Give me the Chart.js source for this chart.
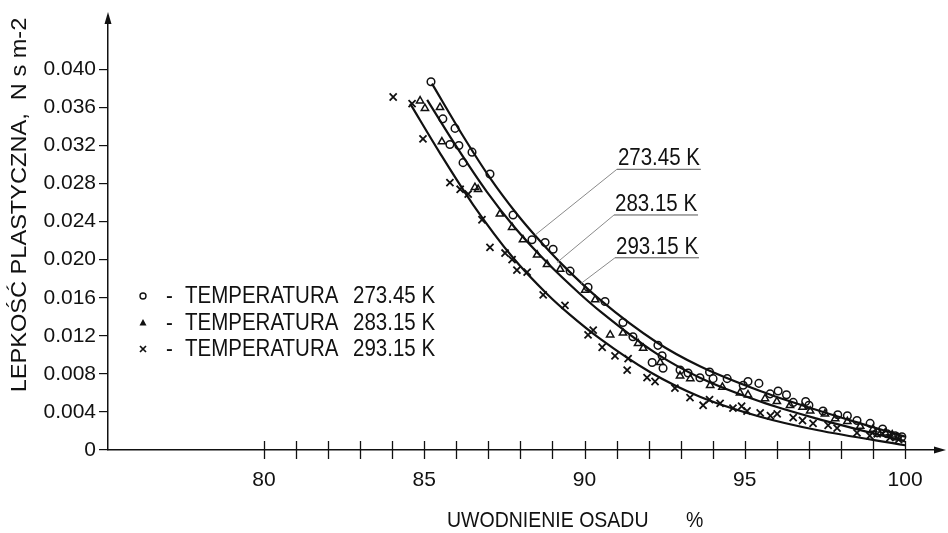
<!DOCTYPE html>
<html lang="pl">
<head>
<meta charset="UTF-8">
<title>Lepkość plastyczna</title>
<style>
  html, body { margin: 0; padding: 0; background: #fff; }
  #wrap { width: 948px; height: 533px; }
</style>
</head>
<body>
<div id="wrap"><canvas id="myChart" width="948" height="533"></canvas></div>

<script src="https://cdn.jsdelivr.net/npm/chart.js"></script>
<script>
// --- dane ---
const xTicks = [80, 81, 82, 83, 84, 85, 86, 87, 88, 89, 90, 91, 92, 93, 94, 95, 96, 97, 98, 99, 100];
const yTicks = [0, 0.004, 0.008, 0.012, 0.016, 0.020, 0.024, 0.028, 0.032, 0.036, 0.040];
const temps = ['273.45 K', '283.15 K', '293.15 K'];

// pomiary 273.45 K (kółka)
const circX = [85.21, 85.58, 85.96, 85.80, 86.08, 86.49, 86.21, 87.05, 87.77, 88.36, 88.77, 89.02, 89.55, 90.11, 90.64, 91.20, 91.51, 92.29, 92.42, 92.11, 92.45, 92.98, 93.23, 93.60, 93.90, 94.01, 94.45, 94.95, 95.10, 95.44, 95.79, 96.04, 96.30, 96.51, 96.90, 97.00, 97.44, 97.90, 98.20, 98.50, 98.91, 99.13, 99.30, 99.44, 99.69, 99.90];
const circY = [0.0387, 0.0348, 0.0338, 0.0321, 0.0320, 0.0313, 0.0302, 0.0290, 0.0247, 0.0221, 0.0218, 0.0211, 0.0188, 0.0171, 0.0156, 0.0134, 0.0119, 0.0110, 0.0099, 0.0092, 0.0086, 0.0084, 0.0081, 0.0076, 0.0082, 0.0075, 0.0075, 0.0068, 0.0072, 0.0070, 0.0059, 0.0062, 0.0058, 0.0050, 0.0051, 0.0047, 0.0041, 0.0037, 0.0036, 0.0031, 0.0028, 0.0018, 0.0022, 0.0017, 0.0015, 0.0014];

// pomiary 283.15 K (trójkąty)
const triX = [84.87, 85.02, 85.49, 85.55, 86.58, 86.68, 87.36, 87.74, 88.08, 88.52, 88.83, 89.24, 90.02, 90.33, 90.80, 91.20, 91.67, 91.83, 92.36, 92.98, 93.30, 93.92, 94.30, 94.85, 95.10, 95.63, 96.00, 96.41, 96.80, 97.04, 97.50, 97.82, 98.20, 98.60, 99.00, 99.38, 99.60, 99.78];
const triY = [0.0367, 0.0359, 0.0360, 0.0324, 0.0276, 0.0274, 0.0248, 0.0234, 0.0221, 0.0205, 0.0195, 0.0190, 0.0168, 0.0158, 0.0121, 0.0123, 0.0112, 0.0107, 0.0092, 0.0078, 0.0075, 0.0068, 0.0066, 0.0060, 0.0058, 0.0054, 0.0051, 0.0047, 0.0045, 0.0041, 0.0038, 0.0033, 0.0030, 0.0025, 0.0022, 0.0018, 0.0016, 0.0013];

// pomiary 293.15 K (krzyżyki)
const crossX = [84.03, 84.62, 84.96, 85.80, 86.12, 86.37, 86.80, 87.05, 87.52, 87.74, 87.89, 88.21, 88.71, 89.39, 90.11, 90.27, 90.55, 90.95, 91.36, 91.33, 91.95, 92.20, 92.82, 93.29, 93.70, 93.90, 94.23, 94.63, 94.90, 95.07, 95.48, 95.80, 96.01, 96.51, 96.80, 97.13, 97.60, 97.88, 98.50, 98.90, 99.13, 99.53, 99.80];
const crossY = [0.0371, 0.0364, 0.0327, 0.0281, 0.0274, 0.0269, 0.0242, 0.0213, 0.0207, 0.0200, 0.0189, 0.0187, 0.0163, 0.0152, 0.0121, 0.0126, 0.0108, 0.0099, 0.0096, 0.0084, 0.0076, 0.0072, 0.0065, 0.0055, 0.0047, 0.0053, 0.0049, 0.0044, 0.0046, 0.0041, 0.0039, 0.0036, 0.0038, 0.0034, 0.0031, 0.0028, 0.0026, 0.0023, 0.0018, 0.0015, 0.0017, 0.0013, 0.0011];

// krzywe
const fit1X = [85.24, 86.21, 87.05, 87.89, 88.52, 89.33, 90.48, 92.26, 93.60, 95.48, 97.25, 98.60, 100.0];
const fit1Y = [0.0385, 0.0330, 0.0286, 0.0248, 0.0223, 0.0194, 0.0158, 0.0113, 0.0088, 0.0062, 0.0042, 0.0028, 0.0014];
const fit2X = [85.09, 86.02, 86.96, 87.77, 88.83, 89.86, 90.48, 92.26, 93.60, 95.48, 97.25, 100.0];
const fit2Y = [0.0368, 0.0318, 0.0271, 0.0236, 0.0197, 0.0164, 0.0146, 0.0101, 0.0076, 0.0051, 0.0033, 0.0009];
const fit3X = [84.56, 85.49, 86.52, 87.77, 88.83, 89.55, 90.48, 92.04, 93.60, 95.48, 97.25, 100.0];
const fit3Y = [0.0364, 0.0312, 0.0258, 0.0202, 0.0164, 0.0142, 0.0117, 0.0082, 0.0056, 0.0035, 0.0021, 0.0005];

// opisy krzywych: początek linii odniesienia i punkt na krzywej
const noteX = [91.01, 90.92, 90.95];
const noteY = [0.0295, 0.0247, 0.0202];
const tipX = [88.46, 89.14, 89.89];
const tipY = [0.0226, 0.0197, 0.0175];

function pary(xs, ys) {
    return xs.map(function (x, i) { return { x: x, y: ys[i] }; });
}

const FONT = '"Liberation Sans", Arial, sans-serif';

function krzywa(xs, ys) {
    return {
        type: 'line',
        data: pary(xs, ys),
        showLine: true,
        borderColor: '#111',
        borderWidth: 2.2,
        pointRadius: 0,
        cubicInterpolationMode: 'monotone',
        fill: false
    };
}

// rysowanie ozdób: ticki na osi X, strzałki, tytuły osi, legenda, opisy
const ozdoby = {
    id: 'ozdoby',
    afterDraw(chart) {
        const ctx = chart.ctx;
        const xs = chart.scales.x;
        const ys = chart.scales.y;
        const a = chart.chartArea;

        ctx.save();
        ctx.strokeStyle = '#111';
        ctx.fillStyle = '#111';
        ctx.lineWidth = 1.3;

        // ticki przecinające oś X
        xTicks.forEach(function (v) {
            const px = Math.round(xs.getPixelForValue(v)) + 0.5;
            ctx.beginPath();
            ctx.moveTo(px, a.bottom - 9);
            ctx.lineTo(px, a.bottom + 9);
            ctx.stroke();
        });

        // strzałki
        ctx.beginPath();
        ctx.moveTo(a.left, a.top - 6);
        ctx.lineTo(a.left - 3.5, a.top + 6);
        ctx.lineTo(a.left + 3.5, a.top + 6);
        ctx.closePath();
        ctx.fill();
        ctx.beginPath();
        ctx.moveTo(a.right + 6, a.bottom);
        ctx.lineTo(a.right - 6, a.bottom - 3.5);
        ctx.lineTo(a.right - 6, a.bottom + 3.5);
        ctx.closePath();
        ctx.fill();

        // tytuł osi Y
        ctx.save();
        ctx.translate(20, 205);
        ctx.rotate(-Math.PI / 2);
        ctx.scale(1.15, 1.05);
        ctx.font = '20.5px ' + FONT;
        ctx.textAlign = 'center';
        ctx.textBaseline = 'middle';
        ctx.fillText('LEPKOŚĆ PLASTYCZNA,  N s m-2', 0, 0);
        ctx.restore();

        // tytuł osi X
        ctx.save();
        ctx.translate(0, 521);
        ctx.scale(1, 1.15);
        ctx.font = '19.5px ' + FONT;
        ctx.textAlign = 'left';
        ctx.textBaseline = 'middle';
        ctx.fillText('UWODNIENIE OSADU', 447, 0);
        ctx.fillText('%', 686, 0);
        ctx.restore();

        // legenda
        const rows = [296, 323, 349];
        rows.forEach(function (ry, i) {
            const mx = 143;
            ctx.lineWidth = 1.4;
            if (i === 0) {
                ctx.beginPath();
                ctx.arc(mx, ry, 3, 0, Math.PI * 2);
                ctx.stroke();
            } else if (i === 1) {
                ctx.beginPath();
                ctx.moveTo(mx, ry - 4);
                ctx.lineTo(mx - 3.5, ry + 2.5);
                ctx.lineTo(mx + 3.5, ry + 2.5);
                ctx.closePath();
                ctx.fill();
            } else {
                ctx.lineWidth = 1.7;
                ctx.beginPath();
                ctx.moveTo(mx - 3, ry - 3);
                ctx.lineTo(mx + 3, ry + 3);
                ctx.moveTo(mx + 3, ry - 3);
                ctx.lineTo(mx - 3, ry + 3);
                ctx.stroke();
            }
            ctx.save();
            ctx.translate(0, ry);
            ctx.scale(1, 1.15);
            ctx.font = '20.5px ' + FONT;
            ctx.textAlign = 'left';
            ctx.textBaseline = 'middle';
            ctx.fillText('-', 166, 0);
            ctx.fillText('TEMPERATURA', 185, 0);
            ctx.fillText(temps[i], 353, 0);
            ctx.restore();
        });

        // opisy krzywych z liniami odniesienia
        temps.forEach(function (t, i) {
            const sx = xs.getPixelForValue(noteX[i]);
            const sy = ys.getPixelForValue(noteY[i]);
            const tx = xs.getPixelForValue(tipX[i]);
            const ty = ys.getPixelForValue(tipY[i]);
            ctx.strokeStyle = '#8a8a8a';
            ctx.lineWidth = 1;
            ctx.beginPath();
            ctx.moveTo(tx, ty);
            ctx.lineTo(sx, sy);
            ctx.stroke();
            ctx.strokeStyle = '#555';
            ctx.beginPath();
            ctx.moveTo(sx, sy);
            ctx.lineTo(sx + 84, sy);
            ctx.stroke();
            ctx.save();
            ctx.translate(sx + 1, sy - 4);
            ctx.scale(1, 1.15);
            ctx.font = '20.5px ' + FONT;
            ctx.fillStyle = '#111';
            ctx.textAlign = 'left';
            ctx.textBaseline = 'alphabetic';
            ctx.fillText(t, 0, 0);
            ctx.restore();
        });

        ctx.restore();
    }
};

const config = {
    type: 'scatter',
    data: {
        datasets: [
            {
                label: temps[0],
                data: pary(circX, circY),
                pointStyle: 'circle',
                pointRadius: 3.8,
                borderColor: '#111',
                backgroundColor: 'rgba(0,0,0,0)',
                borderWidth: 1.5
            },
            {
                label: temps[1],
                data: pary(triX, triY),
                pointStyle: 'triangle',
                pointRadius: 4.2,
                borderColor: '#111',
                backgroundColor: 'rgba(0,0,0,0)',
                borderWidth: 1.5
            },
            {
                label: temps[2],
                data: pary(crossX, crossY),
                pointStyle: 'crossRot',
                pointRadius: 5,
                borderColor: '#111',
                borderWidth: 1.8
            },
            krzywa(fit1X, fit1Y),
            krzywa(fit2X, fit2Y),
            krzywa(fit3X, fit3Y)
        ]
    },
    options: {
        responsive: false,
        animation: false,
        devicePixelRatio: 1,
        layout: { padding: { top: 18, right: 8, left: 0, bottom: 0 } },
        plugins: {
            legend: { display: false },
            tooltip: { enabled: false }
        },
        scales: {
            x: {
                type: 'linear',
                min: 75.133,
                max: 101.09,
                afterBuildTicks: function (scale) {
                    scale.ticks = xTicks.map(function (v) { return { value: v }; });
                },
                afterFit: function (scale) { scale.height = 83; },
                grid: { display: false, drawTicks: false, tickLength: 0 },
                border: { display: true, color: '#111', width: 1.5 },
                ticks: {
                    autoSkip: false,
                    maxRotation: 0,
                    padding: 18,
                    color: '#111',
                    font: { family: FONT, size: 21 },
                    callback: function (v) { return v % 5 === 0 ? String(v) : ''; }
                }
            },
            y: {
                type: 'linear',
                min: 0,
                max: 0.0454,
                afterBuildTicks: function (scale) {
                    scale.ticks = yTicks.map(function (v) { return { value: v }; });
                },
                afterFit: function (scale) { scale.width = 108; },
                grid: { drawOnChartArea: false, drawTicks: true, tickLength: 9, color: '#111', lineWidth: 1.2 },
                border: { display: true, color: '#111', width: 1.5 },
                ticks: {
                    padding: 3,
                    color: '#111',
                    font: { family: FONT, size: 21 },
                    callback: function (v) { return v === 0 ? '0' : v.toFixed(3); }
                }
            }
        }
    },
    plugins: [ozdoby]
};

const myChart = new Chart(document.getElementById('myChart'), config);
</script>
</body>
</html>
